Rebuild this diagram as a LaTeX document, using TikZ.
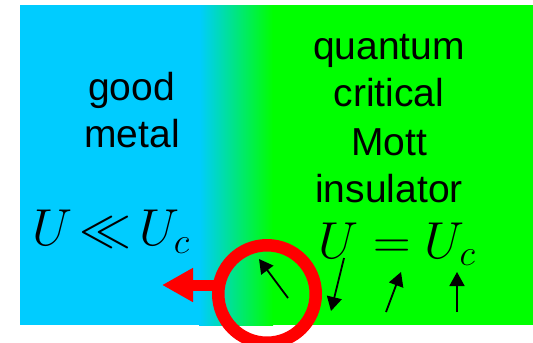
\documentclass[tikz,border=0pt]{standalone}
\usepackage{fix-cm}
\usepackage{fontspec}
\setmainfont{Liberation Sans}
\usetikzlibrary{arrows.meta}
\definecolor{metalblue}{RGB}{0,204,255}
\definecolor{mottgreen}{RGB}{0,255,0}
\definecolor{ringred}{RGB}{255,0,0}
\begin{document}
\begin{tikzpicture}[x=1bp,y=-1bp,
  label/.style={inner sep=0pt,anchor=base,font=\fontsize{39bp}{48bp}\selectfont},
  mathlabel/.style={inner sep=0pt,anchor=base,font=\fontsize{52bp}{60bp}\selectfont},
  spin/.style={line width=1.8bp,-{Triangle[length=14bp,width=15bp]}}]
\useasboundingbox (0,0) rectangle (533,342);
% background
\fill[metalblue] (20,5) rectangle (533,325);
\fill[mottgreen] (272,5) rectangle (533,325);
\shade[left color=metalblue,right color=mottgreen] (199,5) rectangle (273,325);
% texts
\node[label] (good) at (131.5,100) {good};
\node[label] (metal) at (132,147.3) {metal};
\node[label] (quantum) at (389,59.5) {quantum};
\node[label] (critical) at (389,106.5) {critical};
\node[label] (mott) at (389,155) {Mott};
\node[label] (insulator) at (389,202) {insulator};
\node[mathlabel] (ll) at (111,245.7) {$U\mskip2.6mu{\ll}\mskip2.6mu U_c$};
\node[mathlabel] (eq) at (397,258) {$U=U_c$};
% ring and red arrow
\node[circle,draw=ringred,line width=12.5bp,minimum size=97.5bp,inner sep=0pt] (ring) at (267,294) {};
\coordinate (redtip) at (162,285);
\draw[ringred,line width=11bp,-{Triangle[length=31bp,width=32bp]}] (ring.west |- redtip) ++(2,0) -- (redtip);
% spins
\coordinate (s1a) at (288,298); \coordinate (s1b) at (259,259);
\coordinate (s2a) at (344,258); \coordinate (s2b) at (331,311);
\coordinate (s3a) at (386,312); \coordinate (s3b) at (401,272);
\coordinate (s4a) at (457,312); \coordinate (s4b) at (457,272);
\draw[spin] (s1a) -- (s1b);
\draw[spin] (s2a) -- (s2b);
\draw[spin] (s3a) -- (s3b);
\draw[spin] (s4a) -- (s4b);
\end{tikzpicture}
\end{document}
